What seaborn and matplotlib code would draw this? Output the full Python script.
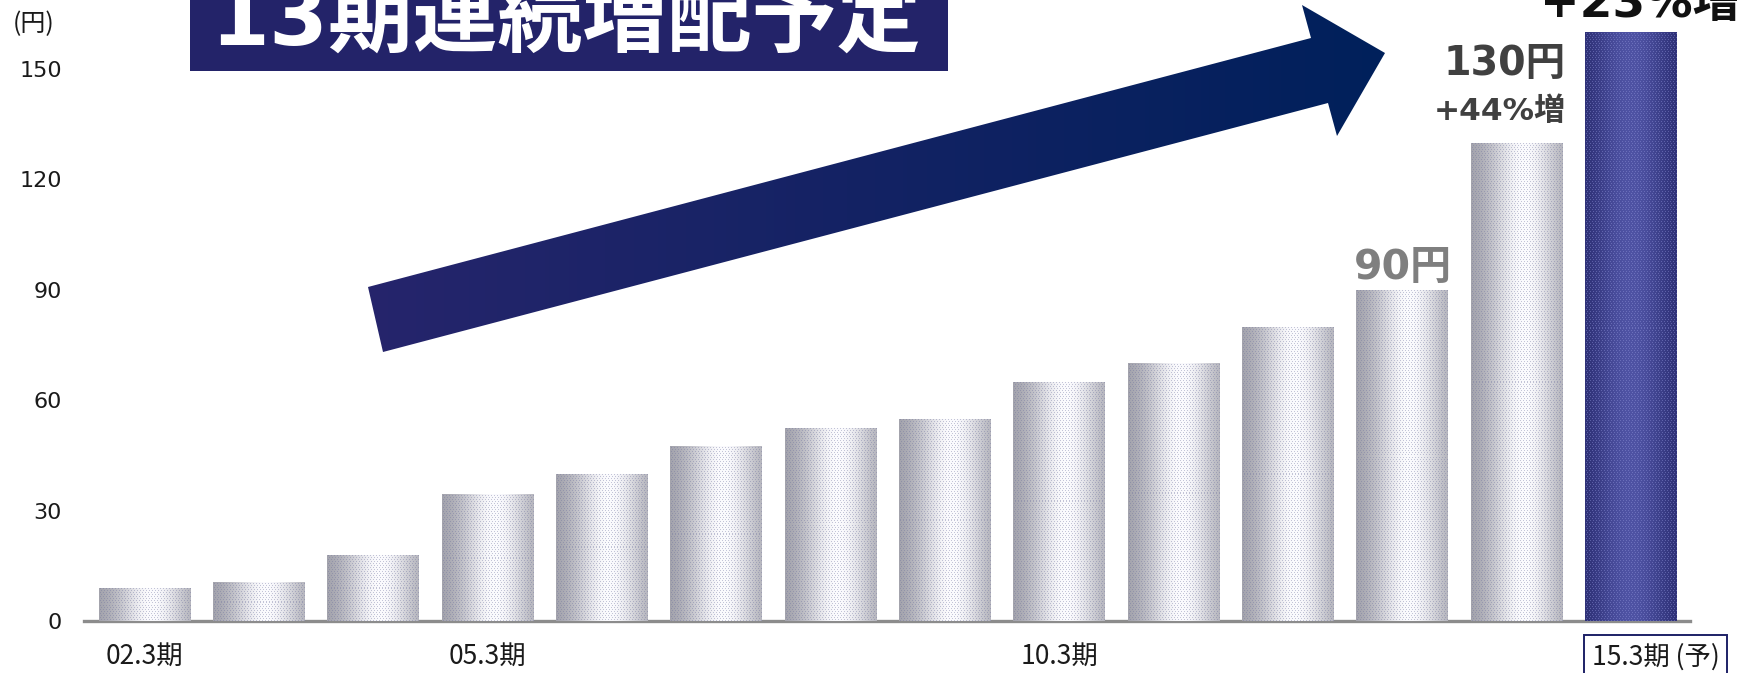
import numpy as np
import pandas as pd
import seaborn as sns
import matplotlib
matplotlib.use("Agg")
import matplotlib.pyplot as plt
from matplotlib.patches import Polygon, Rectangle
import matplotlib.transforms as mtransforms
from matplotlib.colors import to_rgb

# ---------------- data ----------------
periods = ["02.3期", "03.3期", "04.3期", "05.3期", "06.3期", "07.3期", "08.3期",
           "09.3期", "10.3期", "11.3期", "12.3期", "13.3期", "14.3期", "15.3期 (予)"]
dividends = [9, 10.5, 18, 34.5, 40, 47.5, 52.5, 55, 65, 70, 80, 90, 130, 160]
shown_periods = ["02.3期", "05.3期", "10.3期", "15.3期 (予)"]
y_ticks = [0, 30, 60, 90, 120, 150]
title_text = "13期連続増配予定"
unit_text = "(円)"
ann_90 = "90円"
ann_130 = "130円"
ann_44 = "+44%増"
ann_23 = "+23%増"

W, H = 1747, 673
sns.set_theme(style="white")
plt.rcParams["font.family"] = ["DejaVu Sans", "Noto Sans CJK JP"]

fig = plt.figure(figsize=(W / 100, H / 100), dpi=100)
ax = fig.add_axes([84 / W, 1 - 621 / H, (1690 - 84) / W, 621 / H])

df = pd.DataFrame({"period": periods, "dividend": dividends})
silver = "#d0d0d8"
navy = "#3a3d88"
palette = {p: (navy if i == len(periods) - 1 else silver) for i, p in enumerate(periods)}
sns.barplot(data=df, x="period", y="dividend", hue="period", palette=palette,
            width=0.8, legend=False, ax=ax, saturation=1)

ax.set_xlim(-0.53, len(periods) - 1 + 0.52)
ax.set_ylim(0, 621 / 3.68)
ax.set_xlabel("")
ax.set_ylabel("")
for s in ["top", "right", "left"]:
    ax.spines[s].set_visible(False)
ax.spines["bottom"].set_color("#8c8c8c")
ax.spines["bottom"].set_linewidth(2.4)
ax.set_yticks(y_ticks)
ax.set_yticklabels([str(v) for v in y_ticks], fontsize=16, color="#1a1a1a",
                   family=["DejaVu Sans"])
ax.tick_params(axis="y", length=0, pad=16)
ax.tick_params(axis="x", length=0, pad=16)
ax.set_xticks(range(len(periods)))
ax.set_xticklabels([p if p in shown_periods else "" for p in periods],
                   fontsize=19, color="#1a1a1a", family=["Noto Sans CJK JP"])
last = ax.get_xticklabels()[-1]
last.set_transform(last.get_transform() + mtransforms.ScaledTranslation(0.25, 0, fig.dpi_scale_trans))
last.set_bbox(dict(boxstyle="square,pad=0.3", fc="white", ec="#1d2066", lw=1.4))


def texture(nx, ny, dark, light, dot, peak=0.58, width=0.38, mix=0.35):
    t = np.linspace(0, 1, nx)
    prof = np.exp(-((t - peak) / width) ** 2)
    dark, light, dot = map(np.array, (to_rgb(dark), to_rgb(light), to_rgb(dot)))
    base = dark[None, :] + (light - dark)[None, :] * prof[:, None]
    img = np.repeat(base[None, :, :], ny, axis=0)
    jj, ii = np.meshgrid(np.arange(nx), np.arange(ny))
    mask = ((ii % 4 == 1) & (jj % 3 == 1)) | ((ii % 4 == 3) & (jj % 3 == 2))
    img[mask] = img[mask] * (1 - mix) + dot * mix
    return np.clip(img, 0, 1)


px_per_unit = 3.68
for i, patch in enumerate(ax.patches):
    x0, w, h = patch.get_x(), patch.get_width(), patch.get_height()
    nx = 92
    ny = max(int(h * px_per_unit), 2)
    if i == len(periods) - 1:
        img = texture(nx, ny, "#25276a", "#4f53a4", "#8e92d8", peak=0.5, width=0.42, mix=0.45)
    else:
        img = texture(nx, ny, "#9a9aa4", "#fbfbfe", "#70739e", mix=0.4)
    im = ax.imshow(img, extent=[x0, x0 + w, 0, h], aspect="auto",
                   interpolation="nearest", zorder=3)
    im.set_clip_path(patch)

ax.set_xlim(-0.53, len(periods) - 1 + 0.52)
ax.set_ylim(0, 621 / 3.68)

# ---------------- annotations ----------------
ov = fig.add_axes([0, 0, 1, 1], zorder=5)
ov.set_xlim(0, W)
ov.set_ylim(H, 0)
ov.axis("off")

# title box
ov.add_patch(Rectangle((190, -5), 758, 76, fc="#232369", ec="none"))
ov.text(566, 45, title_text, color="white", fontsize=61, fontweight="bold",
        ha="center", va="baseline", family=["DejaVu Sans", "Noto Sans CJK JP"])

# arrow with gradient
arrow_pts = [(368, 287), (1311, 38), (1302, 5), (1385, 53), (1337, 136),
             (1328, 103), (383, 352)]
poly = Polygon(arrow_pts, closed=True, fc="none", ec="none")
ov.add_patch(poly)
c0, c1 = np.array(to_rgb("#26256c")), np.array(to_rgb("#00205b"))
g = np.linspace(0, 1, 256)
grad = (c0[None, :] + (c1 - c0)[None, :] * g[:, None])[None, :, :]
imA = ov.imshow(grad, extent=[360, 1390, 360, 0], aspect="auto", zorder=2)
imA.set_clip_path(poly)
ov.set_xlim(0, W)
ov.set_ylim(H, 0)

fam = ["DejaVu Sans", "Noto Sans CJK JP"]
ov.text(1403, 279, ann_90, color="#7f7f7f", fontsize=29.5, fontweight="bold",
        ha="center", va="baseline", family=fam)
ov.text(1566, 75, ann_130, color="#404040", fontsize=28.5, fontweight="bold",
        ha="right", va="baseline", family=fam)
ov.text(1566, 120, ann_44, color="#404040", fontsize=22.5, fontweight="bold",
        ha="right", va="baseline", family=fam)
ov.text(1640, 17, ann_23, color="#111111", fontsize=34, fontweight="bold",
        ha="center", va="baseline", family=fam)
ov.text(34, 24, unit_text, color="#1a1a1a", fontsize=18, ha="center", va="center",
        family=["Noto Sans CJK JP"])

fig.savefig("out.png", dpi=100)
